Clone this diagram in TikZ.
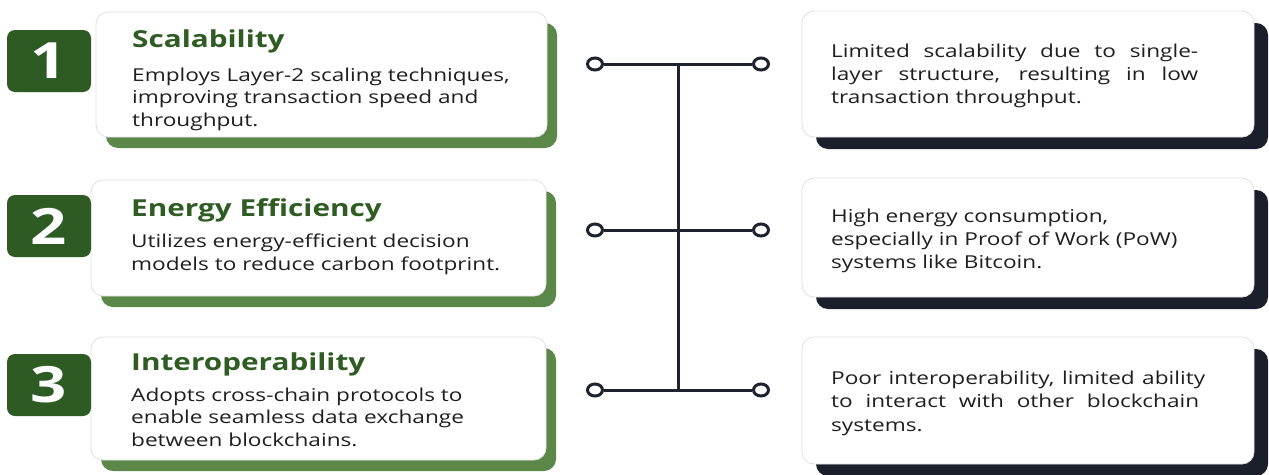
\documentclass[tikz,border=0pt]{standalone}
\usepackage{fontspec}
\setmainfont{Open Sans}[FakeStretch=1.27]
\usetikzlibrary{shapes.geometric}
\definecolor{boxgreen}{HTML}{2E5B24}
\definecolor{titlegreen}{HTML}{2F5C22}
\definecolor{shgreen}{HTML}{5B8748}
\definecolor{shdark}{HTML}{1B1F2B}
\definecolor{bodytext}{HTML}{1F1F1F}
\definecolor{linecol}{HTML}{1F2330}
\begin{document}
\begin{tikzpicture}[x=1pt,y=-1pt,
  card/.style={fill=white, draw=black!12, line width=0.8pt, rounded corners=12pt},
  gshadow/.style={fill=shgreen, rounded corners=12pt},
  dshadow/.style={fill=shdark, rounded corners=12pt},
  numbox/.style={fill=boxgreen, rounded corners=8pt, text=white, minimum width=84pt, minimum height=62pt, inner sep=0pt, font=\fontsize{50}{50}\selectfont\bfseries},
  ttl/.style={anchor=base west, inner sep=0pt, text=titlegreen, font=\fontsize{23.4}{28}\selectfont\bfseries},
  body/.style={anchor=base west, inner sep=0pt, text=bodytext, font=\fontsize{17.8}{22}\selectfont},
  dot/.style={ellipse, draw=linecol, line width=3pt, fill=white, minimum width=15pt, minimum height=12pt, inner sep=0pt},
  link/.style={draw=linecol, line width=3pt}]
\useasboundingbox (0,0) rectangle (1269,474);
\fill[white] (0,0) rectangle (1269,474);

% left cards
\fill[gshadow] (106,23) rectangle (557,148);
\draw[card] (96,12) rectangle (547,137);
\fill[gshadow] (101,191) rectangle (556,307);
\draw[card] (91,180) rectangle (546,296);
\fill[gshadow] (101,348) rectangle (556,471);
\draw[card] (91,337) rectangle (546,460);

% right cards
\fill[dshadow] (816,23) rectangle (1268,149);
\draw[card] (802,11) rectangle (1254,137);
\fill[dshadow] (816,190) rectangle (1268,309);
\draw[card] (802,178) rectangle (1254,297);
\fill[dshadow] (816,349) rectangle (1268,476);
\draw[card] (802,337) rectangle (1254,464);

% number boxes
\node[numbox] (n1) at (49,61) {1};
\node[numbox] (n2) at (49,226) {2};
\node[numbox] (n3) at (49,385) {3};

% left texts
\node[ttl] (t1) at (132,47) {Scalability};
\node[body] (l1a) at (132,81) {Employs Layer-2 scaling techniques,};
\node[body] (l1b) at (132,103.5) {improving transaction speed and};
\node[body] (l1c) at (132,126) {throughput.};

\node[ttl] (t2) at (131,216) {Energy Efficiency};
\node[body] (l2a) at (131,247) {Utilizes energy-efficient decision};
\node[body] (l2b) at (131,270) {models to reduce carbon footprint.};

\node[ttl] (t3) at (131,370) {Interoperability};
\node[body] (l3a) at (131,401) {Adopts cross-chain protocols to};
\node[body] (l3b) at (131,423.5) {enable seamless data exchange};
\node[body] (l3c) at (131,446) {between blockchains.};

% right texts
\node[body] (r1a) at (831,57.7) {\makebox[367pt][s]{Limited scalability due to single-}};
\node[body] (r1b) at (831,80.7) {\makebox[367pt][s]{layer structure, resulting in low}};
\node[body] (r1c) at (831,103.7) {transaction throughput.};

\node[body] (r2a) at (831,222) {High energy consumption,};
\node[body] (r2b) at (831,245) {especially in Proof of Work (PoW)};
\node[body] (r2c) at (831,268.5) {systems like Bitcoin.};

\node[body] (r3a) at (831,384) {\makebox[374pt][s]{Poor interoperability, limited ability}};
\node[body] (r3b) at (831,407) {\makebox[368pt][s]{to interact with other blockchain}};
\node[body] (r3c) at (831,431) {systems.};

% connector
\coordinate (j1) at (678,64);
\coordinate (j2) at (678,230);
\coordinate (j3) at (678,390);
\draw[link] (j1) -- (j3);
\node[dot] (cl1) at (595,64) {};
\node[dot] (cr1) at (761,64) {};
\node[dot] (cl2) at (595,230) {};
\node[dot] (cr2) at (761,230) {};
\node[dot] (cl3) at (595,390) {};
\node[dot] (cr3) at (761,390) {};
\draw[link] (cl1) -- (cr1);
\draw[link] (cl2) -- (cr2);
\draw[link] (cl3) -- (cr3);
\end{tikzpicture}
\end{document}
